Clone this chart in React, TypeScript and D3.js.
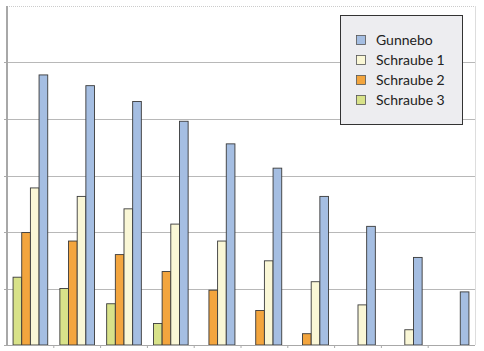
import React, { useRef, useEffect } from "react";
import * as d3 from "d3";

const categories = ["1", "2", "3", "4", "5", "6", "7", "8", "9", "10"];
const seriesNames = ["Gunnebo", "Schraube 1", "Schraube 2", "Schraube 3"];
const gunnebo = [4.78, 4.59, 4.31, 3.96, 3.56, 3.13, 2.63, 2.1, 1.55, 0.94];
const schraube1 = [2.78, 2.63, 2.41, 2.14, 1.84, 1.49, 1.12, 0.71, 0.27, 0];
const schraube2 = [1.99, 1.84, 1.6, 1.3, 0.97, 0.61, 0.2, 0, 0, 0];
const schraube3 = [1.2, 1.0, 0.73, 0.38, 0, 0, 0, 0, 0, 0];
const yTicks = [0, 1, 2, 3, 4, 5, 6];

const colors: Record<string, string> = {
  Gunnebo: "#a5bee2",
  "Schraube 1": "#faf7d6",
  "Schraube 2": "#f3a53e",
  "Schraube 3": "#d8e289",
};

export default function App() {
  const ref = useRef<SVGSVGElement>(null);

  useEffect(() => {
    document.body.style.margin = "0";
    const svg = d3.select(ref.current);
    svg.selectAll("*").remove();

    const width = 484;
    const height = 351;
    const margin = { top: 6, right: 9, bottom: 6, left: 7 };
    const innerW = width - margin.left - margin.right;
    const innerH = height - margin.top - margin.bottom;

    const g = svg
      .append("g")
      .attr("transform", `translate(${margin.left},${margin.top})`);

    const values: Record<string, number[]> = {
      Gunnebo: gunnebo,
      "Schraube 1": schraube1,
      "Schraube 2": schraube2,
      "Schraube 3": schraube3,
    };
    // bars drawn left to right in reverse legend order
    const barOrder = seriesNames.slice().reverse();

    const x0 = d3.scaleBand().domain(categories).range([0, innerW]);
    const x1 = d3
      .scaleBand()
      .domain(barOrder)
      .range([0, x0.bandwidth()])
      .paddingInner(0)
      .paddingOuter(0.7);
    const y = d3.scaleLinear().domain([0, 6]).range([innerH, 0]);

    // plot border top/right
    g.append("line")
      .attr("x1", 0)
      .attr("x2", innerW)
      .attr("y1", 0.5)
      .attr("y2", 0.5)
      .attr("stroke", "#ccc")
      .attr("stroke-dasharray", "1,1");
    g.append("line")
      .attr("x1", innerW + 0.5)
      .attr("x2", innerW + 0.5)
      .attr("y1", 0)
      .attr("y2", innerH)
      .attr("stroke", "#ddd");

    // gridlines
    g.append("g")
      .selectAll("line")
      .data(yTicks.slice(1, -1))
      .join("line")
      .attr("x1", 0)
      .attr("x2", innerW)
      .attr("y1", (d) => Math.round(y(d)) + 0.5)
      .attr("y2", (d) => Math.round(y(d)) + 0.5)
      .attr("stroke", "#b8b8b8");

    // left ticks
    g.append("g")
      .selectAll("line")
      .data(yTicks.slice(0, -1))
      .join("line")
      .attr("x1", -3)
      .attr("x2", 0)
      .attr("y1", (d) => Math.round(y(d)) + 0.5)
      .attr("y2", (d) => Math.round(y(d)) + 0.5)
      .attr("stroke", "#aaa");

    // bars
    const groups = g
      .append("g")
      .selectAll("g")
      .data(categories)
      .join("g")
      .attr("transform", (d) => `translate(${x0(d)},0)`);

    groups
      .selectAll("rect")
      .data((d, i) =>
        barOrder
          .map((s) => ({ s, v: values[s][i] }))
          .filter((e) => e.v > 0)
      )
      .join("rect")
      .attr("x", (d) => x1(d.s)!)
      .attr("y", (d) => y(d.v))
      .attr("width", x1.bandwidth())
      .attr("height", (d) => innerH - y(d.v))
      .attr("fill", (d) => colors[d.s])
      .attr("stroke", "#3a3a3a")
      .attr("stroke-width", 0.9);

    // axes
    g.append("line")
      .attr("x1", 0)
      .attr("x2", 0)
      .attr("y1", 0)
      .attr("y2", innerH)
      .attr("stroke", "#a8a8a8")
      .attr("stroke-width", 2);
    g.append("line")
      .attr("x1", 0)
      .attr("x2", innerW)
      .attr("y1", innerH + 0.5)
      .attr("y2", innerH + 0.5)
      .attr("stroke", "#a8a8a8");
    g.append("g")
      .selectAll("line")
      .data(categories.slice(1))
      .join("line")
      .attr("x1", (d) => x0(d)!)
      .attr("x2", (d) => x0(d)!)
      .attr("y1", innerH)
      .attr("y2", innerH + 3)
      .attr("stroke", "#aaa");

    // legend
    const lg = svg.append("g").attr("transform", "translate(340.5,15.5)");
    lg.append("rect")
      .attr("width", 122)
      .attr("height", 109)
      .attr("fill", "#ededf0")
      .attr("stroke", "#333");
    seriesNames.forEach((s, i) => {
      const row = lg.append("g").attr("transform", `translate(0,${20 + i * 20})`);
      row
        .append("rect")
        .attr("x", 16)
        .attr("y", 0)
        .attr("width", 9)
        .attr("height", 9)
        .attr("fill", colors[s])
        .attr("stroke", "#555")
        .attr("stroke-width", 0.8);
      row
        .append("text")
        .attr("x", 35.5)
        .attr("y", 9)
        .attr("font-family", "Lato, 'Open Sans', sans-serif")
        .attr("font-size", 14)
        .attr("fill", "#222")
        .text(s);
    });
  }, []);

  return <svg ref={ref} width={484} height={351} style={{ display: "block" }}></svg>;
}
